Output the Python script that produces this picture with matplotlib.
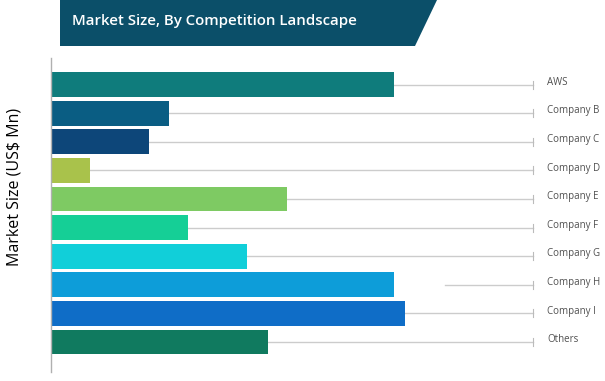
import matplotlib
matplotlib.use("Agg")
import matplotlib.pyplot as plt
from matplotlib.patches import Polygon

companies = ["AWS", "Company B", "Company C", "Company D", "Company E",
             "Company F", "Company G", "Company H", "Company I", "Others"]
market_size = [343, 118, 98, 39, 236, 137, 196, 343, 354, 217]
leader_start = [343, 118, 98, 39, 236, 137, 196, 394, 354, 217]
bar_colors = ["#0f7c7c", "#0a5d83", "#0d4679", "#a9c24b", "#7eca63",
              "#15cf96", "#11cfd9", "#0d9dd9", "#0f6dc7", "#107a5f"]

fig = plt.figure(figsize=(6.05, 3.81), dpi=100)
W, H = 605, 381

# title banner
banner = Polygon([(60 / W, 1), (437 / W, 1), (415 / W, 1 - 46 / H), (60 / W, 1 - 46 / H)],
                 closed=True, transform=fig.transFigure, facecolor="#0b4f69", edgecolor="none")
fig.patches.append(banner)
fig.text(72 / W, 1 - 21 / H, "Market Size, By Competition Landscape", color="white",
         fontsize=10.8, fontweight="semibold", family="Open Sans", va="center", ha="left")

ax = fig.add_axes([51 / W, 9 / H, (W - 51) / W, (372 - 58) / H])
ypos = list(range(len(companies)))
ax.barh(ypos, market_size, height=0.87, color=bar_colors)

line_end = 482
for y, x0, name in zip(ypos, leader_start, companies):
    ax.plot([x0, line_end], [y, y], color="#cccccc", lw=1, zorder=0)
    ax.plot([line_end, line_end], [y - 0.14, y + 0.14], color="#bbbbbb", lw=0.8)
    ax.text(496, y - 0.08, name, fontsize=7, color="#505050", va="center", ha="left",
            family="Open Sans")

ax.set_xlim(0, W - 51)
ax.set_ylim(10.05, -0.93)
for s in ["top", "right", "bottom"]:
    ax.spines[s].set_visible(False)
ax.spines["left"].set_color("#b0b0b0")
ax.spines["left"].set_linewidth(1)
ax.set_xticks([])
ax.set_yticks([])

fig.text(15 / W, 1 - 187 / H, "Market Size (US$ Mn)", rotation=90, fontsize=11.5,
         family="Open Sans", va="center", ha="center", color="black")

fig.savefig("out.png", dpi=100)
